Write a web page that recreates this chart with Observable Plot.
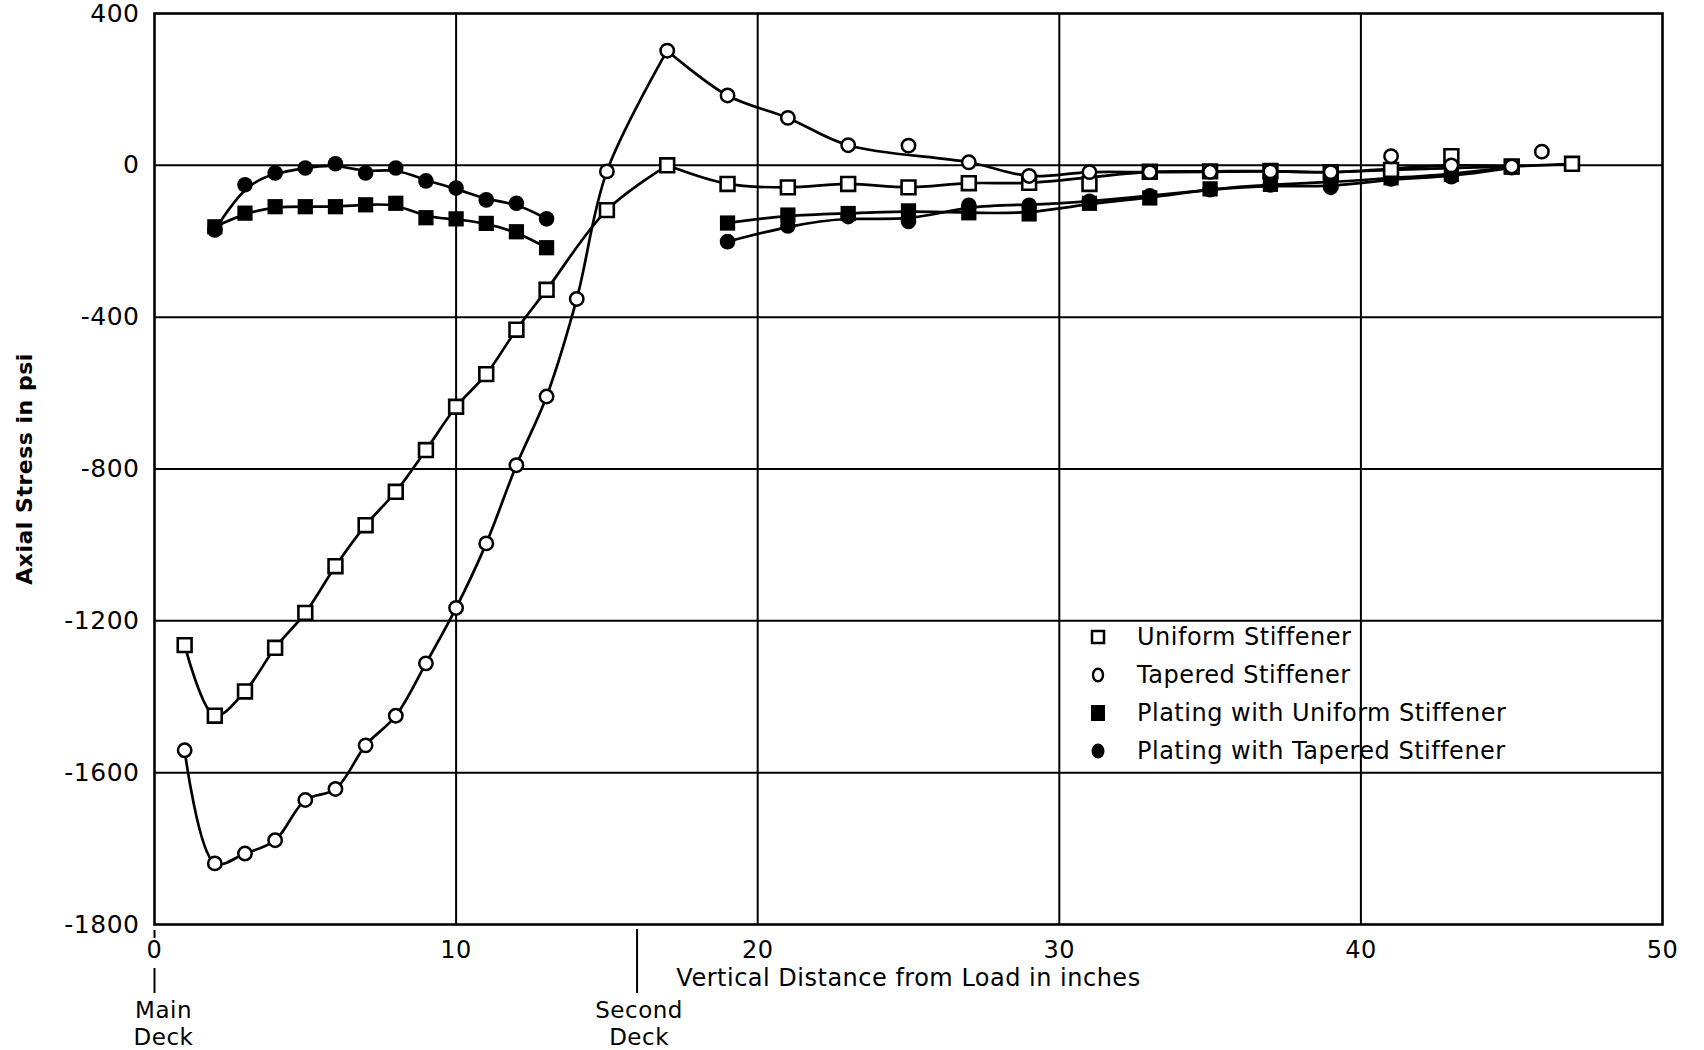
<!DOCTYPE html>
<html>
<head>
<meta charset="utf-8">
<script src="https://cdn.jsdelivr.net/npm/d3@7"></script>
<script src="https://cdn.jsdelivr.net/npm/@observablehq/plot@0.6"></script>
<style>
  body { margin: 0; background: #fff; }
  #wrap { position: relative; width: 1704px; height: 1050px; }
  #legend { position: absolute; left: 1086px; top: 618px; font-family: "DejaVu Sans", sans-serif; font-size: 24px; letter-spacing: 0.5px; color: #000; }
  .row { display: flex; align-items: center; height: 38px; }
  .row svg { width: 24px; height: 24px; margin-right: 27px; flex: none; }
</style>
</head>
<body>
<div id="wrap"><div id="legend"></div></div>
<script>
// ---- axes / ticks ----
const xTicks = [0, 10, 20, 30, 40, 50];
const xGrid = [10, 20, 30, 40];
const yTicks = [400, 0, -400, -800, -1200, -1600, -2000];
const yTickLabels = ["400", "0", "-400", "-800", "-1200", "-1600", "-1800"];
const yGrid = [0, -400, -800, -1200, -1600];
const xAxisLabel = "Vertical Distance from Load in inches";
const yAxisLabel = "Axial Stress in psi";

// ---- series ----
const uniformX = [1,2,3,4,5,6,7,8,9,10,11,12,13,15,17,19,21,23,25,27,29,31,33,35,37,39,41,43,45,47];
const uniformStress = [-1264,-1450,-1386,-1271,-1179,-1056,-948,-860,-750,-636,-550,-433,-328,-118,0,-49,-58,-49,-58,-47,-46,-49,-17,-16,-15,-18,-12,24,-3,4];

const taperedX = [1,2,3,4,5,6,7,8,9,10,11,12,13,14,15,17,19,21,23,25,27,29,31,33,35,37,39,41,43,45,46];
const taperedStress = [-1541,-1839,-1813,-1778,-1672,-1643,-1528,-1450,-1312,-1166,-996,-790,-609,-352,-16,302,184,125,53,52,8,-28,-18,-18,-17,-16,-18,24,0,-3,36];

const platUniformX = [2,3,4,5,6,7,8,9,10,11,12,13,19,21,23,25,27,29,31,33,35,37,39,41,43,45];
const platUniformStress = [-162,-126,-109,-109,-109,-104,-100,-138,-141,-153,-175,-217,-152,-131,-127,-120,-125,-128,-100,-86,-62,-50,-45,-33,-24,-4];

const platTaperedX = [2,3,4,5,6,7,8,9,10,11,12,13,19,21,23,25,27,29,31,33,35,37,39,41,43,45];
const platTaperedStress = [-170,-51,-20,-7,4,-20,-7,-41,-60,-91,-100,-141,-201,-160,-135,-148,-105,-105,-95,-80,-64,-52,-58,-36,-30,-6];

// points left off the hand-drawn fitted curves, and corners of those curves
const offCurveUniform = [31, 43];
const offCurveTapered = [25, 41, 46];
const curveCorners = [17];

const seriesNames = ["Uniform Stiffener", "Tapered Stiffener", "Plating with Uniform Stiffener", "Plating with Tapered Stiffener"];

const decks = [{x: 0, label: "Main\nDeck"}, {x: 16, label: "Second\nDeck"}];

// ---- tables ----
const rows = (xs, ys) => xs.map((x, i) => ({x, y: ys[i], seg: x < 16 ? 0 : 1}));
const uniform = rows(uniformX, uniformStress);
const tapered = rows(taperedX, taperedStress);
const platU = rows(platUniformX, platUniformStress);
const platT = rows(platTaperedX, platTaperedStress);

function curveParts(data, skip) {
  const out = [];
  let part = 0;
  for (const d of data) {
    if (skip.includes(d.x)) continue;
    out.push({...d, part});
    if (curveCorners.includes(d.x)) { part++; out.push({...d, part}); }
  }
  return out;
}

const font = "'DejaVu Sans', sans-serif";
const lineW = 2.7;

const chart = Plot.plot({
  width: 1704,
  height: 1050,
  marginLeft: 154,
  marginRight: 42,
  marginTop: 13,
  marginBottom: 126,
  style: {fontFamily: font, fontSize: "24px", color: "#000", background: "#fff", letterSpacing: "0.5px"},
  x: {domain: [0, 50]},
  y: {domain: [-2000, 400]},
  marks: [
    Plot.gridX(xGrid, {stroke: "#000", strokeOpacity: 1, strokeWidth: 2}),
    Plot.gridY(yGrid, {stroke: "#000", strokeOpacity: 1, strokeWidth: 2}),
    Plot.frame({stroke: "#000", strokeWidth: 2.6}),
    Plot.axisX({ticks: xTicks, tickSize: 0, tickPadding: 16, fontSize: 24, label: null, tickFormat: d => String(d)}),
    Plot.axisY({ticks: yTicks, tickSize: 0, tickPadding: 15, fontSize: 25, label: null,
      tickFormat: d => yTickLabels[yTicks.indexOf(d)]}),
    Plot.text([xAxisLabel], {text: d => d, frameAnchor: "bottom", dy: 44, lineAnchor: "top", fontSize: 24}),
    Plot.text([yAxisLabel], {text: d => d, frameAnchor: "left", textAnchor: "middle", dx: -130, rotate: -90, fontSize: 22, fontWeight: "bold"}),
    // deck markers
    Plot.ruleX(decks.filter(d => d.x !== 0), {x: "x", insetTop: 916, insetBottom: -69, stroke: "#000", strokeWidth: 2}),
    Plot.ruleX(decks.filter(d => d.x === 0), {x: "x", insetTop: 917, insetBottom: -14, stroke: "#000", strokeWidth: 2}),
    Plot.ruleX(decks.filter(d => d.x === 0), {x: "x", insetTop: 955, insetBottom: -69, stroke: "#000", strokeWidth: 2}),
    Plot.text(decks.filter(d => d.x === 0), {x: "x", text: "label", frameAnchor: "bottom", dx: 9, dy: 74, lineAnchor: "top", lineHeight: 1.17, fontSize: 23}),
    Plot.text(decks.filter(d => d.x !== 0), {x: "x", text: "label", frameAnchor: "bottom", dx: 2, dy: 74, lineAnchor: "top", lineHeight: 1.17, fontSize: 23}),
    // fitted curves
    Plot.line(curveParts(uniform, offCurveUniform), {x: "x", y: "y", z: "part", curve: "catmull-rom", stroke: "#000", strokeWidth: lineW}),
    Plot.line(curveParts(tapered, offCurveTapered), {x: "x", y: "y", z: "part", curve: "catmull-rom", stroke: "#000", strokeWidth: lineW}),
    Plot.line(platU, {x: "x", y: "y", z: "seg", curve: "basis", stroke: "#000", strokeWidth: lineW}),
    Plot.line(platT, {x: "x", y: "y", z: "seg", curve: "basis", stroke: "#000", strokeWidth: lineW}),
    // markers
    Plot.dot(platU, {x: "x", y: "y", symbol: "square", r: 8.6, fill: "#000", stroke: "none"}),
    Plot.dot(platT, {x: "x", y: "y", symbol: "circle", r: 7.8, fill: "#000", stroke: "none"}),
    Plot.dot(uniform, {x: "x", y: "y", symbol: "square", r: 7.8, fill: "#fff", stroke: "#000", strokeWidth: 2.6}),
    Plot.dot(tapered, {x: "x", y: "y", symbol: "circle", r: 6.7, fill: "#fff", stroke: "#000", strokeWidth: 2.5})
  ]
});
document.getElementById("wrap").prepend(chart);

// ---- legend ----
const swatches = [
  '<rect x="6" y="6" width="12" height="12" fill="#fff" stroke="#000" stroke-width="2.5"/>',
  '<ellipse cx="12" cy="12" rx="5" ry="6.2" fill="#fff" stroke="#000" stroke-width="2.4"/>',
  '<rect x="5" y="4" width="14" height="16" fill="#000"/>',
  '<ellipse cx="12" cy="12" rx="6.5" ry="7.5" fill="#000"/>'
];
const legend = document.getElementById("legend");
seriesNames.forEach((name, i) => {
  const row = document.createElement("div");
  row.className = "row";
  row.innerHTML = `<svg viewBox="0 0 24 24">${swatches[i]}</svg><span>${name}</span>`;
  legend.appendChild(row);
});
</script>
</body>
</html>
